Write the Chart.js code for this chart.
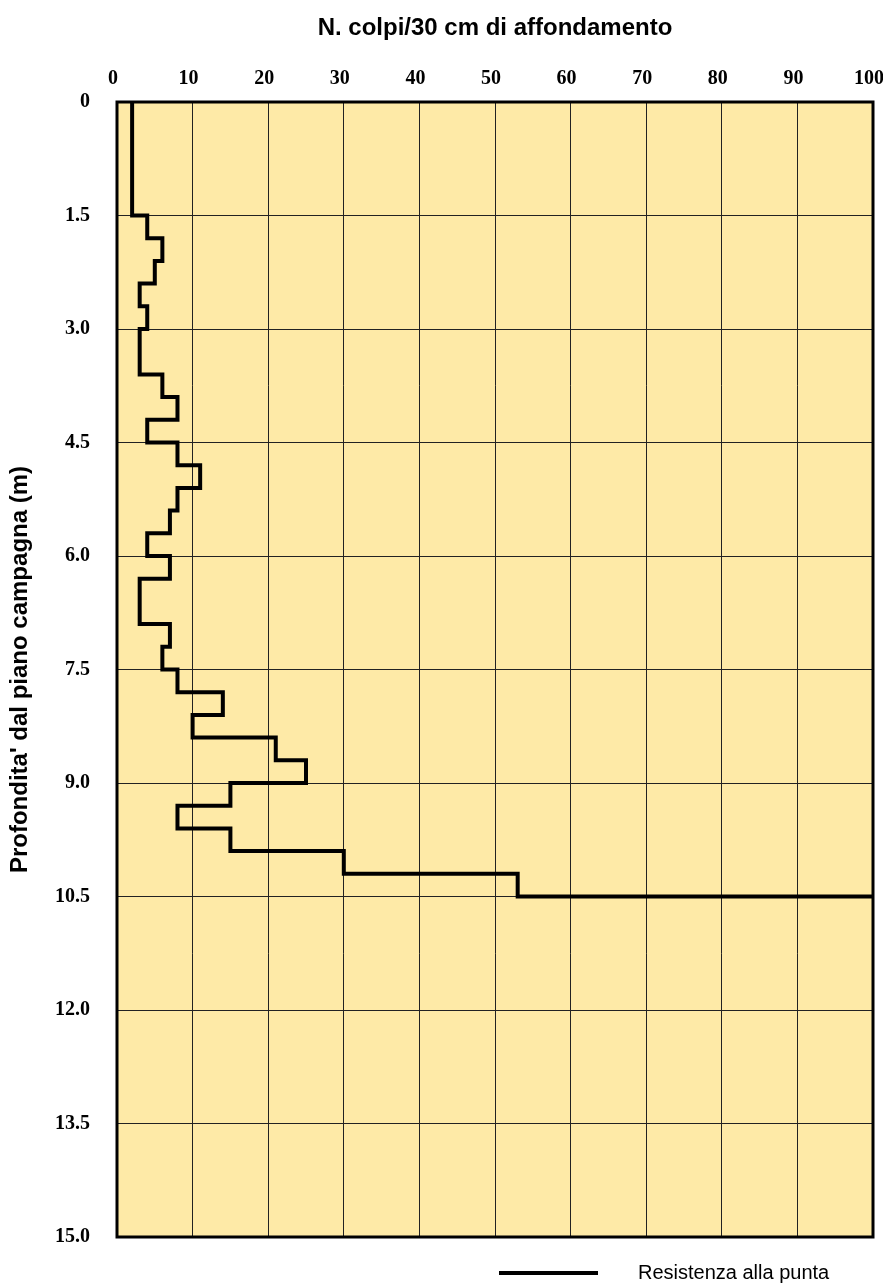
<!DOCTYPE html>
<html>
<head>
<meta charset="utf-8">
<script src="https://cdn.jsdelivr.net/npm/chart.js@4/dist/chart.umd.min.js"></script>
<style>
  html, body { margin: 0; padding: 0; background: #fff; }
  #wrap { width: 883px; height: 1286px; position: relative; }
</style>
</head>
<body>
<div id="wrap"><canvas id="penetro"></canvas></div>
<script>
// profondità (m) di inizio di ogni tratto da 30 cm
const depthTop = [0.0, 0.3, 0.6, 0.9, 1.2, 1.5, 1.8, 2.1, 2.4, 2.7,
                  3.0, 3.3, 3.6, 3.9, 4.2, 4.5, 4.8, 5.1, 5.4, 5.7,
                  6.0, 6.3, 6.6, 6.9, 7.2, 7.5, 7.8, 8.1, 8.4, 8.7,
                  9.0, 9.3, 9.6, 9.9, 10.2];
// N. colpi per ogni tratto
const colpi = [2, 2, 2, 2, 2, 4, 6, 5, 3, 4,
               3, 3, 6, 8, 4, 8, 11, 8, 7, 4,
               7, 3, 3, 7, 6, 8, 14, 10, 21, 25,
               15, 8, 15, 30, 53];
const stepDepth = 0.3;
// rifiuto a fine prova
const refusalDepth = 10.5;
const refusalValue = 100;

const xTicks = [0, 10, 20, 30, 40, 50, 60, 70, 80, 90, 100];
const yTicks = [0, 1.5, 3.0, 4.5, 6.0, 7.5, 9.0, 10.5, 12.0, 13.5, 15.0];

// profilo a gradini
const profilo = [];
depthTop.forEach((d, i) => {
    profilo.push({ x: colpi[i], y: d });
    profilo.push({ x: colpi[i], y: +(d + stepDepth).toFixed(2) });
});
profilo.push({ x: refusalValue, y: refusalDepth });

const frameBg = {
    id: 'frameBg',
    beforeDraw(chart) {
        const { ctx, chartArea: a } = chart;
        ctx.save();
        ctx.fillStyle = '#FEEAA7';
        ctx.fillRect(a.left, a.top, a.right - a.left, a.bottom - a.top);
        ctx.restore();
    },
    afterDraw(chart) {
        const { ctx, chartArea: a } = chart;
        ctx.save();
        ctx.strokeStyle = '#000';
        ctx.lineWidth = 3;
        ctx.strokeRect(a.left, a.top, a.right - a.left, a.bottom - a.top);
        // legenda
        const ly = a.bottom + 36;
        ctx.lineWidth = 4;
        ctx.beginPath();
        ctx.moveTo(a.left + 382, ly);
        ctx.lineTo(a.left + 481, ly);
        ctx.stroke();
        ctx.fillStyle = '#000';
        ctx.font = '20px "Liberation Sans", Arial, sans-serif';
        ctx.textBaseline = 'middle';
        ctx.fillText('Resistenza alla punta', a.left + 521, ly);
        ctx.restore();
    }
};

const tickFont = { family: '"Liberation Serif", "Times New Roman", serif', size: 20, weight: 'bold' };
const titleFont = { family: '"Liberation Sans", Arial, sans-serif', size: 24, weight: 'bold' };

const ctx = document.getElementById('penetro').getContext('2d');
new Chart(ctx, {
    type: 'scatter',
    data: {
        datasets: [{
            label: 'Resistenza alla punta',
            data: profilo,
            showLine: true,
            borderColor: '#000',
            borderWidth: 4,
            borderJoinStyle: 'miter',
            pointRadius: 0,
            tension: 0
        }]
    },
    options: {
        responsive: true,
        maintainAspectRatio: false,
        animation: false,
        layout: { padding: { top: 0, left: 0, right: 10, bottom: 49 } },
        plugins: { legend: { display: false }, tooltip: { enabled: false } },
        scales: {
            x: {
                type: 'linear',
                position: 'top',
                min: 0, max: 100,
                afterBuildTicks: s => { s.ticks = xTicks.map(v => ({ value: v })); },
                afterFit: s => { s.height = 102; s.paddingLeft = 0; s.paddingRight = 0; },
                ticks: { padding: 11, labelOffset: -4, color: '#000', font: tickFont },
                grid: { color: '#222', lineWidth: 1, drawTicks: false },
                border: { display: false },
                title: {
                    display: true,
                    text: 'N. colpi/30 cm di affondamento',
                    color: '#000',
                    padding: { top: 14, bottom: 0 },
                    font: titleFont
                }
            },
            y: {
                type: 'linear',
                reverse: true,
                min: 0, max: 15,
                afterBuildTicks: s => { s.ticks = yTicks.map(v => ({ value: v })); },
                afterFit: s => { s.width = 117; s.paddingTop = 0; s.paddingBottom = 0; },
                ticks: {
                    padding: 27,
                    color: '#000',
                    font: tickFont,
                    callback: v => v === 0 ? '0' : v.toFixed(1)
                },
                grid: { color: '#222', lineWidth: 1, drawTicks: false },
                border: { display: false },
                title: {
                    display: true,
                    text: "Profondita' dal piano campagna (m)",
                    color: '#000',
                    padding: { top: 6, bottom: 0 },
                    font: titleFont
                }
            }
        }
    },
    plugins: [frameBg]
});
</script>
</body>
</html>
